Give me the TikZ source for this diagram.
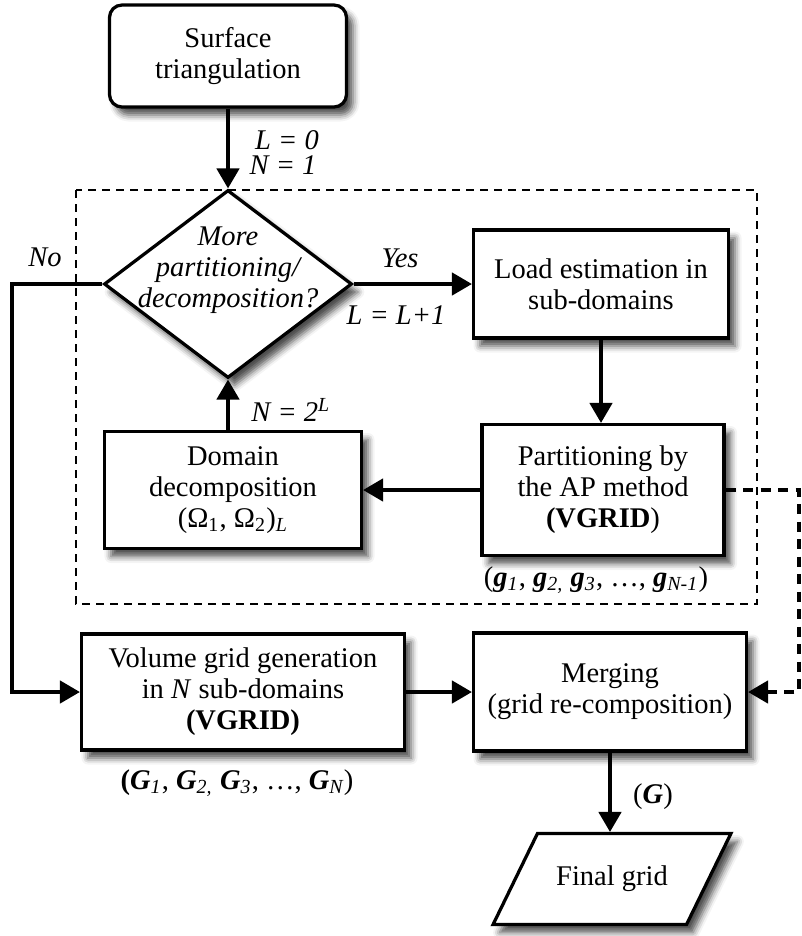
\documentclass[tikz,border=0pt]{standalone}
\usepackage{fontspec}
\setmainfont{Liberation Serif}
\usepackage{tikz}
\usetikzlibrary{shapes,arrows,positioning,calc,shadows.blur,arrows.meta}

\begin{document}
\begin{tikzpicture}[x=0.4pt,y=-0.4pt,
    font=\fontsize{11.4}{12.4}\selectfont,
    box/.style={draw, line width=1.3pt, fill=white, align=center, inner sep=2pt,
        blur shadow={shadow xshift=2.6pt, shadow yshift=-3.2pt, shadow blur radius=2.6pt, shadow opacity=70}},
    arr/.style={line width=1.3pt, -{Triangle[length=8pt,width=9pt]}},
    lbl/.style={font=\fontsize{11.4}{12.4}\selectfont\itshape}]
    \useasboundingbox (0,0) rectangle (802,936);

    % Partitioning loop frame
    \draw[line width=0.8pt, dash pattern=on 3.2pt off 2.4pt] (76,190) rectangle (757,604);

    % Boxes
    \node[box, rounded corners=5pt, minimum width=94.8pt, minimum height=40.8pt] (surf) at (228,56) {Surface\\triangulation};
    \node[box, diamond, inner sep=0pt, minimum width=99.2pt, minimum height=75.2pt,
        label={[lbl, align=center, yshift=5.6pt]center:{More\\partitioning/\\decomposition?}}] (dia) at (228,284) {};
    \node[box, minimum width=102pt, minimum height=43.2pt] (load) at (601,284) {Load estimation in\\sub-domains};
    \node[box, minimum width=96.8pt, minimum height=52.4pt] (part) at (603,490) {Partitioning by\\the AP method\\\textbf{(VGRID})};
    \node[box, minimum width=102.8pt, minimum height=46.8pt] (dom) at (233,490) {Domain\\decomposition\\(Ω\textsubscript{1}, Ω\textsubscript{2})\textsubscript{\itshape L}};
    \node[box, minimum width=129.2pt, minimum height=46.4pt] (vol) at (243,692) {Volume grid generation\\in \textit{N} sub-domains\\\textbf{(VGRID)}};
    \node[box, minimum width=109.2pt, minimum height=47.2pt] (merge) at (610,692) {Merging\\(grid re-composition)};
    \node[box, trapezium, trapezium left angle=64, trapezium right angle=116,
        inner xsep=7.5pt, inner ysep=13pt] (final) at (612,879) {Final grid};

    % Labels
    \node[lbl] (lzero) at (287,140) {L = 0};
    \node[lbl] (none) at (283,165) {N = 1};
    \node[lbl] (no) at (45,257) {No};
    \node[lbl] (yes) at (400,258) {Yes};
    \node[lbl] (linc) at (396,315) {L = L+1};
    \node[lbl] (ntwo) at (291,410) {N = 2\textsuperscript{L}};
    \node (glab) at (596,580) {(\textbf{\textit{g}}\textsubscript{\itshape 1}, \textbf{\textit{g}}\textsubscript{\itshape 2,} \textbf{\textit{g}}\textsubscript{\itshape 3}, \ldots, \textbf{\textit{g}}\textsubscript{\itshape N-1})};
    \node (Glab) at (237,783) {\textbf{(}\textbf{\textit{G}}\textsubscript{\itshape 1}, \textbf{\textit{G}}\textsubscript{\itshape 2,} \textbf{\textit{G}}\textsubscript{\itshape 3}, \ldots, \textbf{\textit{G}}\textsubscript{\itshape N})};
    \node (gfin) at (653,797) {(\textbf{\textit{G}})};

    % Connectors
    \coordinate (nobend) at (12,284);
    \coordinate (dashbend) at (799,490);
    \draw[arr] (surf.south) -- (dia.north);
    \draw[arr] (dia.east) -- (load.west);
    \draw[arr] (load.south) -- (load.south |- part.north);
    \draw[arr] (part.west) -- (dom.east);
    \draw[arr] (dom.north -| dia.south) -- (dia.south);
    \draw[arr] (dia.west) -- (nobend) |- (vol.west);
    \draw[arr] (vol.east) -- (merge.west);
    \draw[arr, dash pattern=on 4pt off 3pt] (part.east) -- (dashbend) |- (merge.east);
    \draw[arr] (merge.south) -- (merge.south |- final.north);
\end{tikzpicture}
\end{document}
